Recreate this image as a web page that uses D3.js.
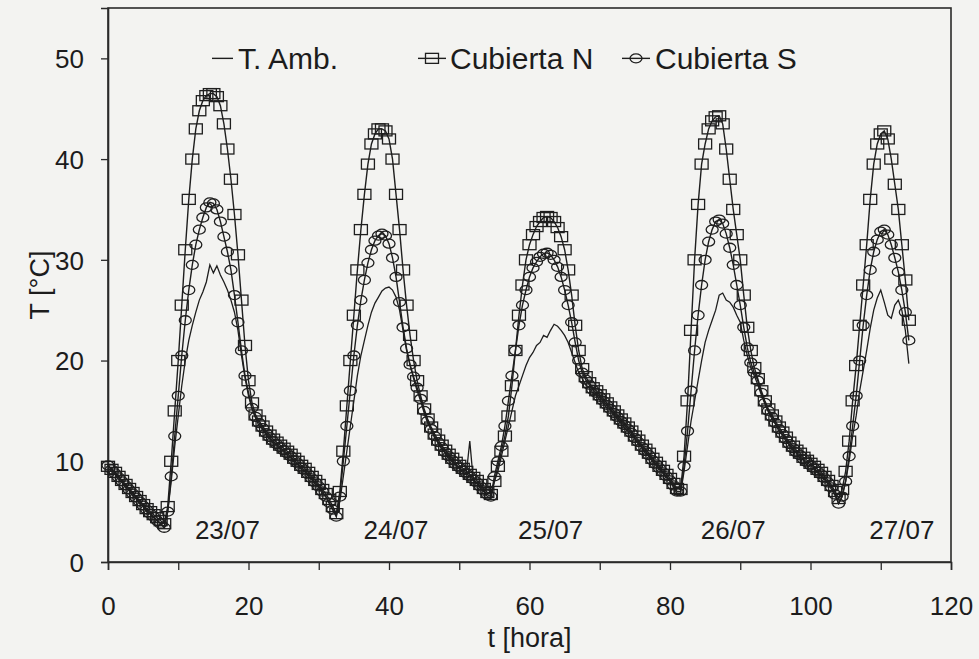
<!DOCTYPE html>
<html>
<head>
<meta charset="utf-8">
<script src="https://cdn.jsdelivr.net/npm/d3@7"></script>
<style>
  body { margin: 0; background: #f3f3f1; }
  svg { display: block; }
  text { font-family: "Liberation Sans", Arial, sans-serif; fill: #1c1c1c; }
</style>
</head>
<body>
<svg id="chart"></svg>
<script>
// readings every half hour, starting at t = 0
const t0 = 0;
const dt = 0.5;

const tAmb = [
  9.3, 9.0, 8.7, 8.2, 7.9, 7.4, 7.1, 6.6, 6.3, 5.8,
  5.5, 5.0, 4.8, 4.4, 4.2, 3.8, 3.5, 5, 8, 11.5,
  14.5, 17.5, 20, 22, 23.5, 24.8, 26, 26.8, 27.8, 29.5,
  28.7, 29.4, 28.5, 27.8, 27, 26, 24.8, 23, 20.5, 18.3,
  16.5, 15.2, 14.3, 13.5, 13.2, 12.6, 12.3, 11.8, 11.6, 11.2,
  11, 10.6, 10.4, 9.9, 9.7, 9.2, 9, 8.5, 8.2, 7.7,
  7.4, 6.8, 6.5, 5.8, 5.2, 4.6, 6, 8.5, 11, 13.5,
  16, 18.5, 20.5, 22, 23.5, 24.8, 25.7, 26.3, 26.9, 27.2,
  27.3, 27, 26.3, 25, 23, 21, 19.5, 18.2, 17, 16,
  14.8, 13.8, 13.1, 12.3, 11.8, 11.2, 10.8, 10.3, 10, 9.6,
  9.3, 8.9, 8.7, 12, 8.1, 7.8, 7.3, 7, 6.5, 6.3,
  8, 9, 10.5, 12, 13.5, 15, 16.5, 17.5, 18.5, 19.5,
  20.3, 20.8, 21.5, 21.8, 22.5, 22.3, 23, 23.6, 23.4, 23,
  22.5, 21.8, 20.8, 19.8, 18.8, 18.2, 17.6, 17.3, 16.8, 16.6,
  16.1, 15.8, 15.3, 15.1, 14.6, 14.2, 13.8, 13.3, 13, 12.5,
  12.2, 11.7, 11.3, 10.8, 10.5, 10, 9.7, 9.2, 8.9, 8.4,
  8, 7.4, 6.8, 6.8, 9, 11.5, 14, 16, 18, 20,
  21.8, 23, 24, 25, 26.5, 26.7, 26, 25.8, 25.3, 24.5,
  23.8, 22, 20.5, 19.3, 18.5, 17.6, 16.6, 15.7, 14.9, 14.2,
  13.7, 13, 12.6, 12, 11.6, 11.1, 10.8, 10.3, 10.1, 9.6,
  10.5, 9.2, 8.9, 8.5, 8.2, 7.7, 7.2, 6.6, 5.8, 6.5,
  8, 10, 12.5, 14.5, 17, 19, 21, 23.2, 25, 26.2,
  27, 25.8, 24.5, 24.2, 25.5, 26, 25, 23, 19.7
];

const cubiertaN = [
  9.5, 9.2, 8.9, 8.5, 8.1, 7.7, 7.3, 6.9, 6.5, 6.1,
  5.7, 5.3, 5.0, 4.7, 4.4, 4.1, 3.8, 5.5, 10, 15,
  20, 25.5, 31, 36, 40, 43, 44.8, 45.8, 46.3, 46.5,
  46.5, 46.2, 45.3, 43.5, 41, 38, 34.5, 30.5, 26, 21.5,
  18, 15.8, 14.6, 14, 13.5, 13, 12.6, 12.2, 11.9, 11.6,
  11.3, 11, 10.7, 10.3, 10, 9.6, 9.3, 8.9, 8.5, 8.1,
  7.7, 7.2, 6.8, 6.2, 5.5, 4.8, 7, 11, 15.5, 20,
  24.5, 29, 33, 36.5, 39.5, 41.5, 42.5, 43, 43, 42.8,
  42, 40, 36.5, 33, 29, 25.5, 22.5, 20, 18, 16.5,
  15.2, 14.2, 13.4, 12.7, 12.1, 11.6, 11.1, 10.7, 10.3, 9.9,
  9.6, 9.3, 9, 8.7, 8.4, 8.1, 7.7, 7.3, 6.9, 6.7,
  8, 9.5, 11, 12.5, 14.5, 17.5, 21, 24.5, 27.5, 30,
  31.5, 32.5, 33.3, 33.8, 34.2, 34.3, 34.2, 33.8, 33.2, 32.3,
  31, 29, 26.5, 23.5, 21, 19.2, 18.4, 17.8, 17.3, 17,
  16.6, 16.2, 15.8, 15.4, 15, 14.6, 14.2, 13.8, 13.4, 13,
  12.5, 12.1, 11.6, 11.2, 10.8, 10.3, 9.9, 9.5, 9.1, 8.7,
  8.3, 7.8, 7.3, 7.2, 10.5, 16, 23, 30, 35.5, 39.5,
  41.5, 43, 43.8, 44.2, 44.3, 43.5, 41, 38, 35, 32.5,
  30, 26.5, 23.3, 21, 19.3, 18.2, 17, 16, 15.2, 14.6,
  14, 13.4, 12.9, 12.4, 11.9, 11.5, 11.1, 10.8, 10.4, 10.1,
  9.8, 9.5, 9.2, 8.9, 8.5, 8.1, 7.6, 7, 6.3, 7.2,
  9, 12, 16, 19.5, 23.5, 27.5, 31.5, 36, 39.5, 41.5,
  42.5, 42.8, 42, 40, 37.5, 35, 31.5, 28, 24
];

const cubiertaS = [
  9.6, 9.2, 8.8, 8.4, 8.0, 7.6, 7.2, 6.8, 6.4, 6.0,
  5.6, 5.2, 4.8, 4.5, 4.1, 3.8, 3.4, 5, 8.5, 12.5,
  16.5, 20.5, 24, 27, 29.5, 31.5, 33, 34.2, 35.2, 35.7,
  35.6, 35, 33.8, 32.3, 30.8, 29, 26.5, 23.8, 21, 18.5,
  16.8, 15.3, 14.4, 13.8, 13.3, 12.8, 12.4, 12, 11.7, 11.4,
  11.1, 10.8, 10.5, 10.1, 9.8, 9.4, 9.1, 8.7, 8.3, 7.9,
  7.5, 7, 6.5, 5.9, 5.2, 4.5, 6.5, 10, 13.5, 17,
  20.5, 23.5, 26, 28, 29.7, 31, 31.9, 32.4, 32.6, 32.4,
  31.6, 30.2, 28.3, 25.8, 23.3, 21.2, 19.6, 18.4, 17.3, 16.2,
  15, 14, 13.2, 12.5, 11.9, 11.4, 10.9, 10.5, 10.1, 9.7,
  9.4, 9.1, 8.8, 8.5, 8.2, 7.9, 7.5, 7.1, 6.7, 6.5,
  8.5, 10, 11.5, 13.5, 16, 18.5, 21, 23.5, 25.5, 27,
  28.3, 29.2, 29.8, 30.3, 30.6, 30.7, 30.5, 30, 29.3, 28.3,
  27, 25.5, 23.8, 21.8, 20, 18.8, 18.1, 17.6, 17.1, 16.8,
  16.4, 16, 15.6, 15.2, 14.8, 14.4, 14, 13.6, 13.2, 12.8,
  12.3, 11.9, 11.4, 11, 10.6, 10.1, 9.7, 9.3, 8.9, 8.5,
  8.1, 7.6, 7, 7, 9.5, 13, 17, 21, 24.5, 27.5,
  30, 31.8, 33, 33.8, 34, 33.6, 32.6, 31.2, 29.5, 27.5,
  25.5, 23.3, 21.3, 19.8, 18.8, 18, 16.8, 15.8, 15, 14.4,
  13.8, 13.2, 12.7, 12.2, 11.7, 11.3, 10.9, 10.6, 10.2, 9.9,
  9.6, 9.3, 9, 8.7, 8.3, 7.9, 7.4, 6.7, 5.8, 6.5,
  8, 10.5, 13.5, 16.5, 20, 23.5, 26.5, 29, 30.8, 32,
  32.8, 33, 32.5, 31.5, 30.2, 28.8, 27, 24.8, 22
];

const dayLabels = ["23/07", "24/07", "25/07", "26/07", "27/07"];
const dayLabelHours = [17, 41, 63, 89, 113];
const dayLabelTemp = 3.2;

const xTicks = [0, 10, 20, 30, 40, 50, 60, 70, 80, 90, 100, 110, 120];
const yTicks = [0, 10, 20, 30, 40, 50];

const width = 979;
const height = 659;
const margin = {top: 8, right: 28, bottom: 97, left: 108};

const svg = d3.select("#chart")
    .attr("width", width)
    .attr("height", height);

const x = d3.scaleLinear()
    .domain([0, 120])
    .range([margin.left, width - margin.right]);

const y = d3.scaleLinear()
    .domain([0, 55])
    .range([height - margin.bottom, margin.top]);

const toPoints = arr => arr.map((v, i) => ({t: t0 + i * dt, v: v}));
const amb = toPoints(tAmb);
const north = toPoints(cubiertaN);
const south = toPoints(cubiertaS);

const line = d3.line()
    .x(d => x(d.t))
    .y(d => y(d.v));

const ink = "#1e1e1e";

// frame
svg.append("rect")
    .attr("x", x(0))
    .attr("y", y(55))
    .attr("width", x(120) - x(0))
    .attr("height", y(0) - y(55))
    .attr("fill", "none")
    .attr("stroke", "#2a2a2a")
    .attr("stroke-width", 1.6);

// axes
const xAxis = svg.append("g")
    .attr("transform", `translate(0,${y(0)})`)
    .call(d3.axisBottom(x)
        .tickValues(xTicks)
        .tickSize(8)
        .tickPadding(27)
        .tickFormat(d => d % 20 === 0 ? d : ""));

const yAxis = svg.append("g")
    .attr("transform", `translate(${x(0)},0)`)
    .call(d3.axisLeft(y)
        .tickValues(yTicks)
        .tickSize(7)
        .tickPadding(17));

[xAxis, yAxis].forEach(g => {
    g.select(".domain").attr("stroke", "#2a2a2a").attr("stroke-width", 1.6);
    g.selectAll(".tick line").attr("stroke", "#2a2a2a").attr("stroke-width", 1.3);
    g.selectAll(".tick text")
        .attr("font-size", 26)
        .attr("font-family", "'Liberation Sans', Arial, sans-serif")
        .attr("fill", "#1c1c1c");
});
yAxis.selectAll(".tick text").attr("dy", "0.36em");

// series
svg.append("path")
    .datum(amb)
    .attr("fill", "none")
    .attr("stroke", ink)
    .attr("stroke-width", 1.3)
    .attr("d", line);

svg.append("path")
    .datum(north)
    .attr("fill", "none")
    .attr("stroke", ink)
    .attr("stroke-width", 1.4)
    .attr("d", line);

svg.append("path")
    .datum(south)
    .attr("fill", "none")
    .attr("stroke", ink)
    .attr("stroke-width", 1.4)
    .attr("d", line);

svg.append("g")
    .selectAll("rect")
    .data(north)
    .join("rect")
    .attr("x", d => x(d.t) - 6.5)
    .attr("y", d => y(d.v) - 5)
    .attr("width", 13)
    .attr("height", 10)
    .attr("fill", "none")
    .attr("stroke", ink)
    .attr("stroke-width", 1.3);

svg.append("g")
    .selectAll("ellipse")
    .data(south)
    .join("ellipse")
    .attr("cx", d => x(d.t))
    .attr("cy", d => y(d.v))
    .attr("rx", 6)
    .attr("ry", 4.5)
    .attr("fill", "none")
    .attr("stroke", ink)
    .attr("stroke-width", 1.3);

// day labels
svg.append("g")
    .selectAll("text")
    .data(dayLabels)
    .join("text")
    .attr("x", (d, i) => x(dayLabelHours[i]))
    .attr("y", y(dayLabelTemp))
    .attr("dy", "0.36em")
    .attr("text-anchor", "middle")
    .attr("font-size", 26)
    .text(d => d);

// axis titles
svg.append("text")
    .attr("x", (x(0) + x(120)) / 2)
    .attr("y", 647)
    .attr("text-anchor", "middle")
    .attr("font-size", 27)
    .text("t [hora]");

svg.append("text")
    .attr("transform", `translate(49,${y(27.5)}) rotate(-90)`)
    .attr("text-anchor", "middle")
    .attr("font-size", 27)
    .text("T [°C]");

// legend
const legY = y(50);
const leg = svg.append("g");

leg.append("line")
    .attr("x1", 212).attr("x2", 233)
    .attr("y1", legY).attr("y2", legY)
    .attr("stroke", ink).attr("stroke-width", 1.4);
leg.append("text")
    .attr("x", 238).attr("y", legY).attr("dy", "0.36em")
    .attr("font-size", 30)
    .text("T. Amb.");

leg.append("line")
    .attr("x1", 418).attr("x2", 446)
    .attr("y1", legY).attr("y2", legY)
    .attr("stroke", ink).attr("stroke-width", 1.4);
leg.append("rect")
    .attr("x", 425.5).attr("y", legY - 5)
    .attr("width", 13).attr("height", 10)
    .attr("fill", "none").attr("stroke", ink).attr("stroke-width", 1.3);
leg.append("text")
    .attr("x", 450).attr("y", legY).attr("dy", "0.36em")
    .attr("font-size", 30)
    .text("Cubierta N");

leg.append("line")
    .attr("x1", 622).attr("x2", 650)
    .attr("y1", legY).attr("y2", legY)
    .attr("stroke", ink).attr("stroke-width", 1.4);
leg.append("ellipse")
    .attr("cx", 636).attr("cy", legY)
    .attr("rx", 6).attr("ry", 4.5)
    .attr("fill", "none").attr("stroke", ink).attr("stroke-width", 1.3);
leg.append("text")
    .attr("x", 655).attr("y", legY).attr("dy", "0.36em")
    .attr("font-size", 30)
    .text("Cubierta S");
</script>
</body>
</html>
